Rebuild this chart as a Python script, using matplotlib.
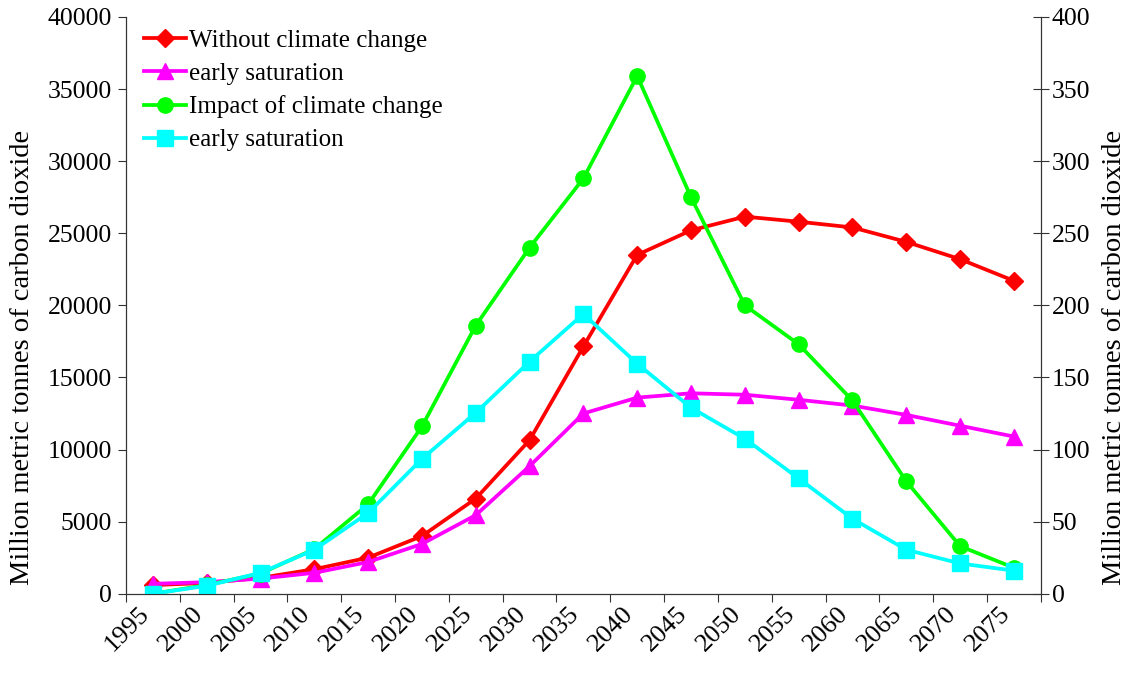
import matplotlib
matplotlib.use('Agg')
import matplotlib.pyplot as plt
import matplotlib.transforms as mtransforms
import numpy as np

# Years shown on the category axis (one label per interval boundary)
years = [1995, 2000, 2005, 2010, 2015, 2020, 2025, 2030, 2035,
         2040, 2045, 2050, 2055, 2060, 2065, 2070, 2075]

# Left axis series (million tonnes CO2)
without_cc = [600, 750, 1100, 1700, 2500, 4000, 6600, 10650, 17150,
              23500, 25200, 26150, 25800, 25400, 24400, 23200, 21700]
early_sat_left = [690, 800, 1050, 1450, 2200, 3450, 5450, 8850, 12500,
                  13600, 13900, 13800, 13450, 13050, 12400, 11650, 10900]

# Right axis series
impact_cc = [0, 6, 14, 31, 62, 116, 186, 240, 288,
             359, 275, 200, 173, 134, 78, 33, 18]
early_sat_right = [0, 5.5, 14.5, 30.5, 56, 93.5, 125.5, 161, 194,
                   159.5, 129, 107.5, 80, 52, 30.5, 21, 16]

plt.rcParams['font.family'] = ['Liberation Serif', 'DejaVu Serif']

fig = plt.figure(figsize=(11.35, 6.77), dpi=100)
ax = fig.add_axes([0.111, 0.123, 0.806, 0.852])
ax2 = ax.twinx()

x = np.arange(len(years)) + 0.5
lw = 2.7
l1, = ax.plot(x, without_cc, color='#ff0000', lw=lw, marker='D', ms=9.5,
              label='Without climate change')
l2, = ax.plot(x, early_sat_left, color='#ff00ff', lw=lw, marker='^', ms=11,
              label='early saturation')
l3, = ax2.plot(x, impact_cc, color='#00ff00', lw=lw, marker='o', ms=11,
               label='Impact of climate change')
l4, = ax2.plot(x, early_sat_right, color='#00ffff', lw=lw, marker='s', ms=11,
               label='early saturation')

ax.set_xlim(0, len(years))
ax.set_ylim(0, 40000)
ax2.set_ylim(0, 400)
ax.set_yticks(np.arange(0, 40001, 5000))
ax2.set_yticks(np.arange(0, 401, 50))

for a in (ax, ax2):
    a.spines['top'].set_visible(False)
    for s in a.spines.values():
        s.set_color('#333333')
ax.tick_params(axis='y', direction='out', length=6, labelsize=18.5,
               color='#333333', pad=4)
ax.tick_params(axis='x', direction='out', length=6, pad=6, color='#333333')
ax2.tick_params(axis='y', direction='inout', length=12, labelsize=18.5,
                color='#333333', pad=2)

# year labels sit on the boundaries, rotated and nudged to the right
ax.set_xticks(np.arange(len(years) + 1))
ax.set_xticklabels([str(y) for y in years] + [''], rotation=45,
                   ha='right', va='top', rotation_mode='anchor', fontsize=19)
offset = mtransforms.ScaledTranslation(0.12, 0.08, fig.dpi_scale_trans)
for lab in ax.get_xticklabels():
    lab.set_transform(lab.get_transform() + offset)

ax.set_ylabel('Million metric tonnes of carbon dioxide', fontsize=20.5)
ax2.set_ylabel('Million metric tonnes of carbon dioxide', fontsize=20.5)
ax.yaxis.set_label_coords(-0.1, 0.41)
ax2.yaxis.set_label_coords(1.067, 0.41)

ax.legend(handles=[l1, l2, l3, l4], loc='upper left', frameon=False,
          fontsize=18, handlelength=1.7, handletextpad=0.1,
          labelspacing=0.42, bbox_to_anchor=(0.006, 1.0), borderaxespad=0.1)

fig.savefig('out.png', dpi=100)
